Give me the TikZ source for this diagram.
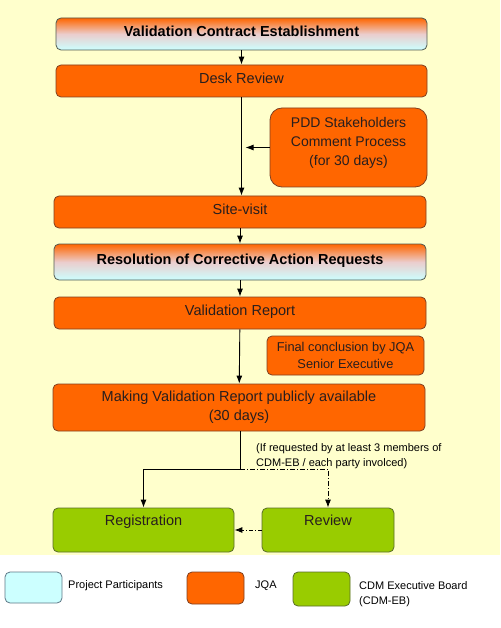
\documentclass[tikz,border=0pt]{standalone}
\usepackage{fontspec}
\setmainfont{Liberation Sans}
\usetikzlibrary{arrows.meta}
\definecolor{jqaorange}{RGB}{255,102,0}
\definecolor{ebgreen}{RGB}{153,204,0}
\definecolor{ppcyan}{RGB}{204,255,255}
\definecolor{paleyellow}{RGB}{255,255,204}
\definecolor{jqaline}{RGB}{128,64,32}
\definecolor{ebline}{RGB}{90,110,40}
\definecolor{ppline}{RGB}{80,90,80}
\definecolor{legline}{RGB}{95,120,135}
\definecolor{textdark}{RGB}{40,30,30}
\begin{document}
\begin{tikzpicture}[>={Latex[length=8pt,width=6pt]},line join=bevel,x=1pt,y=-1pt,
  box/.style={rounded corners=5pt,inner sep=0pt,align=center,line width=0.8pt,
    text=textdark,font=\fontsize{14.5}{17}\selectfont},
  oneline/.style={text height=10.5pt,text depth=6pt},
  jqa/.style={box,draw=jqaline,fill=jqaorange},
  pp/.style={box,draw=ppline,top color=jqaorange,bottom color=ppcyan,text=black,
    middle color={rgb,255:red,235;green,205;blue,205},font=\fontsize{14.5}{17}\selectfont\bfseries},
  eb/.style={box,draw=ebline,fill=ebgreen},
  note/.style={inner sep=0pt,align=left,font=\fontsize{11}{15.5}\selectfont},
  legbox/.style={rounded corners=5pt,line width=0.8pt,minimum width=57pt,inner sep=0pt},
  link/.style={black,line width=0.9pt},
]
%%
  \useasboundingbox (0,0) rectangle (500,628);
  \fill [white] (0,0) rectangle (500,628);
  \fill [paleyellow] (0,0) rectangle (500,555);
%%
  \node [pp,oneline,minimum width=371pt,minimum height=32pt] (contract) at (241.5,34) {Validation Contract Establishment};
  \node [jqa,oneline,minimum width=371pt,minimum height=32pt] (desk) at (241.5,81) {Desk Review};
  \node [jqa,rounded corners=12pt,minimum width=157pt,minimum height=79pt,text depth=13pt,
    font=\fontsize{14}{19}\selectfont] (comment) at (348.5,147.5) {PDD Stakeholders\\Comment Process\\(for 30 days)};
  \node [jqa,oneline,minimum width=372pt,minimum height=32pt] (site) at (240,212) {Site-visit};
  \node [pp,oneline,minimum width=372pt,minimum height=36pt] (car) at (240,262) {Resolution of Corrective Action Requests};
  \node [jqa,oneline,minimum width=372pt,minimum height=32pt] (report) at (240,313) {Validation Report};
  \node [jqa,minimum width=157pt,minimum height=39pt,
    font=\fontsize{12.8}{17}\selectfont] (final) at (345.5,355.5) {Final conclusion by JQA\\Senior Executive};
  \node [jqa,minimum width=372pt,minimum height=47pt,
    font=\fontsize{14.5}{19}\selectfont] (public) at (239,407.5) {Making Validation Report publicly available\\(30 days)};
  \node [eb,minimum width=181pt,text height=17pt,text depth=27pt] (registration) at (143.5,530) {Registration};
  \node [eb,minimum width=132pt,text height=17pt,text depth=27pt] (review) at (328,530) {Review};
  \node [note,anchor=north west] (condition) at (256,443) {(If requested by at least 3 members of\\CDM-EB / each party involced)};
  \coordinate (split) at (240,469);
%%
  \draw [link,->] (contract) edge (desk);
  \draw [link,->] (desk.south) -- (site.north -| desk.south);
  \draw [link,->,shorten >=4pt] (comment.west) -- (comment.west -| desk.south);
  \draw [link,->] (site) edge (car);
  \draw [link,->] (car) edge (report);
  \draw [link,->] (report) edge (public);
  \draw [link] (public.south -| split) -- (split);
  \draw [link,->] (split) -| (registration.north);
  \draw [link,->,dash pattern=on 5pt off 2pt on 1pt off 2pt] (split) -| (review.north);
  \draw [link,->,dash pattern=on 4pt off 2pt on 1pt off 2pt] (review.west) -- (registration.east);
%%
  \node [legbox,draw=legline,fill=ppcyan,minimum height=31pt] (leg_pp) at (33.5,587.5) {};
  \node [note,anchor=west] (leg_pp_text) at (68,586) {Project Participants};
  \node [legbox,draw=jqaline,fill=jqaorange,minimum height=32pt] (leg_jqa) at (215.5,588) {};
  \node [note,anchor=west] (leg_jqa_text) at (255,586) {JQA};
  \node [legbox,draw=ebline,fill=ebgreen,minimum height=34pt] (leg_eb) at (321.5,589) {};
  \node [note,anchor=west] (leg_eb_text) at (359,594) {CDM Executive Board\\(CDM-EB)};
\end{tikzpicture}
\end{document}
